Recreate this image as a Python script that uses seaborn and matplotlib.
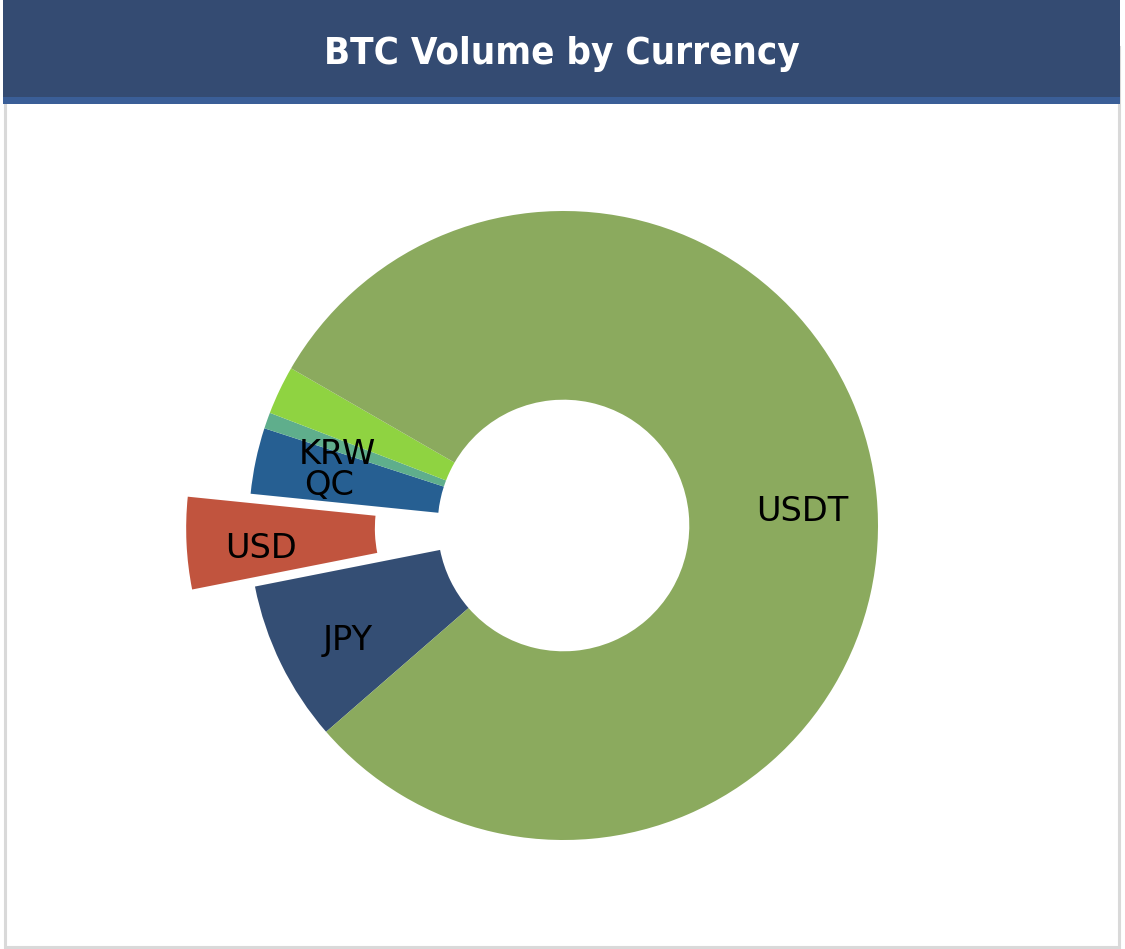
import matplotlib
matplotlib.use("Agg")
import matplotlib.pyplot as plt
import matplotlib.transforms as mtrans
import seaborn as sns
from matplotlib.patches import Rectangle

# ---- data ----
currencies = ["JPY", "USD", "QC", "KRW", "", "USDT"]
shares = [8.28, 4.72, 3.39, 0.83, 2.50, 80.28]
colors = ["#344E74", "#C1543E", "#265F92", "#5FAE8C", "#8FD341", "#8BAA5E"]
explode = [0, 0.2, 0, 0, 0, 0]
title = "BTC Volume by Currency"

sns.set_theme(style="white")
plt.rcParams["font.family"] = ["DejaVu Sans"]

W, H, DPI = 1125, 949, 100
fig = plt.figure(figsize=(W / DPI, H / DPI), dpi=DPI)
fig.patch.set_facecolor("white")

# panel border
fig.patches.append(Rectangle((4.5 / W, 2.5 / H), 1114 / W, 900 / H, transform=fig.transFigure,
                             facecolor="none", edgecolor="#D9D9D9", linewidth=2.2, zorder=-1))
# header band
fig.patches.append(Rectangle((3 / W, 1 - 97 / H), 1117 / W, 97 / H, transform=fig.transFigure,
                             facecolor="#344B72", edgecolor="none", zorder=1))
fig.patches.append(Rectangle((3 / W, 1 - 104 / H), 1117 / W, 7 / H, transform=fig.transFigure,
                             facecolor="#3A5E97", edgecolor="none", zorder=1))
fig.text(562 / W, 1 - 64 / H, title, color="white", fontsize=27.5, fontweight="bold",
         family=["DejaVu Sans"], fontstretch="condensed",
         ha="center", va="baseline", zorder=2)

# pie axes: centre at (563.5, 525.5) px, radius 314.5 px
R = 314.5
cx, cy = 563.5, 525.5
lim = 1.3
half = R * lim
ax = fig.add_axes([(cx - half) / W, (H - cy - half) / H, 2 * half / W, 2 * half / H])
wedges, texts = ax.pie(shares, labels=currencies, colors=colors, explode=explode,
                       startangle=221, counterclock=False, labeldistance=0.763,
                       wedgeprops=dict(width=0.6, linewidth=0),
                       textprops=dict(fontsize=24.2, color="black"))
shift = mtrans.offset_copy(ax.transData, fig=fig, x=0, y=-9, units="dots")
for t in texts:
    t.set_ha("center")
    t.set_va("center")
    t.set_transform(shift)
ax.set_xlim(-lim, lim)
ax.set_ylim(-lim, lim)
ax.set_aspect("equal")
ax.axis("off")

fig.savefig("out.png", dpi=DPI, facecolor="white")
